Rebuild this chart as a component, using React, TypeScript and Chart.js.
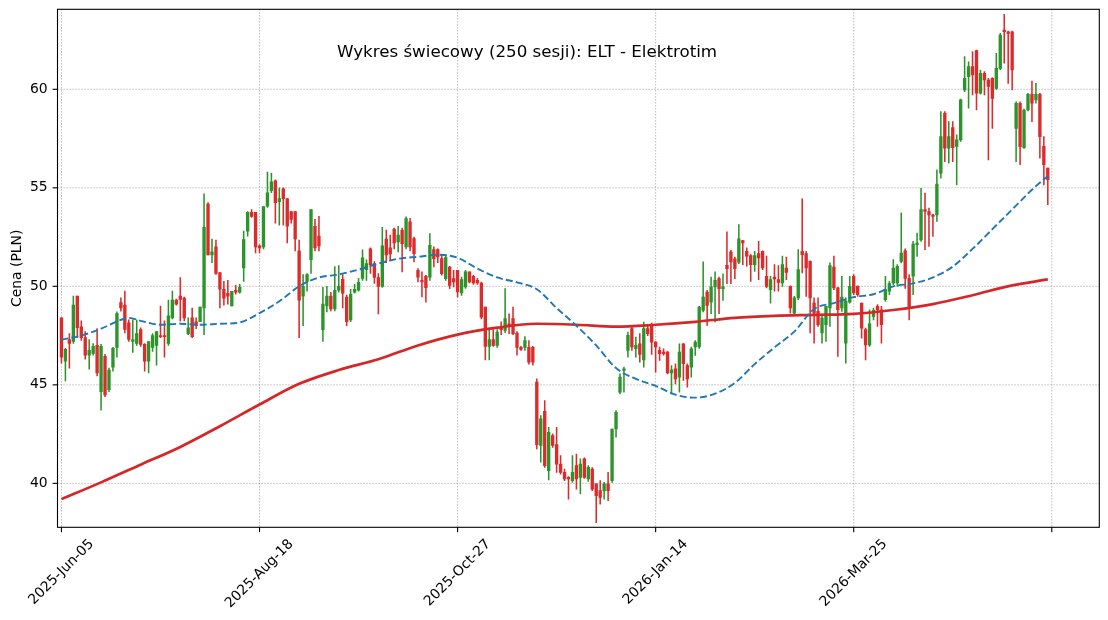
import { useEffect, useRef } from "react";
import { Chart, registerables } from "chart.js";

Chart.register(...registerables);

// OHLC for the 250 sessions (10 per row)
const OPEN = [
  48.4, 46.2, 47.3, 47.2, 49.5, 47.95, 47.4, 46.5, 46.6, 47.0,
  44.65, 46.45, 44.75, 45.9, 46.9, 49.17, 49.05, 48.15, 47.2, 47.1,
  47.8, 47.05, 46.2, 46.9, 47.0, 47.5, 47.5, 47.1, 48.4, 49.3,
  49.5, 49.4, 47.6, 48.4, 48.2, 48.2, 48.91, 54.18, 51.6, 52.0,
  50.7, 49.85, 49.65, 49.0, 49.8, 49.7, 50.93, 52.8, 53.75, 53.75,
  52.05, 52.0, 54.07, 54.85, 55.35, 54.3, 54.95, 54.45, 53.8, 53.8,
  51.8, 49.5, 50.25, 51.35, 53.05, 52.55, 47.8, 49.0, 49.5, 48.85,
  49.8, 50.35, 49.45, 48.3, 49.7, 49.8, 50.4, 50.85, 51.9, 51.15,
  50.45, 50.0, 52.4, 51.95, 52.9, 52.25, 52.85, 52.0, 53.27, 52.42,
  50.81, 50.3, 50.51, 50.47, 51.86, 51.86, 51.41, 50.39, 50.98, 50.39,
  50.81, 49.66, 49.97, 50.73, 50.51, 50.3, 50.17, 48.95, 46.95, 47.3,
  47.0, 47.97, 47.76, 48.1, 48.36, 47.63, 46.9, 46.9, 46.9, 46.9,
  45.14, 41.92, 43.66, 40.64, 42.42, 41.97, 40.98, 40.56, 40.3, 40.14,
  40.9, 40.3, 41.24, 40.22, 40.73, 39.97, 39.63, 39.63, 39.97, 40.14,
  42.76, 44.63, 45.73, 46.75, 47.85, 46.83, 47.08, 46.27, 47.85, 48.02,
  47.17, 46.75, 46.66, 46.66, 45.6, 45.81, 45.39, 47.08, 45.98, 45.9,
  46.92, 46.92, 48.78, 49.71, 49.2, 49.97, 50.39, 49.88, 51.07, 51.75,
  51.4, 51.22, 52.32, 51.78, 51.56, 51.1, 51.66, 51.78, 50.51, 49.83,
  50.47, 50.34, 50.17, 50.93, 50.0, 48.64, 49.41, 51.78, 51.66, 51.27,
  49.15, 48.73, 47.63, 48.05, 48.9, 50.98, 49.92, 48.9, 47.12, 49.19,
  50.51, 50.0, 49.15, 47.8, 47.03, 48.47, 48.98, 48.81, 49.32, 49.75,
  50.17, 50.17, 51.27, 51.8, 50.4, 50.51, 52.11, 52.36, 53.89, 53.8,
  53.63, 53.63, 55.74, 58.78, 57.01, 58.06, 57.1, 57.43, 59.97, 60.64,
  61.15, 61.96, 59.8, 60.81, 60.47, 60.56, 60.05, 61.06, 63.0, 62.92,
  62.92, 58.02, 59.29, 57.04, 58.95, 59.75, 59.46, 59.75, 57.1, 56.0,
];

const HIGH = [
  48.4, 46.85, 47.6, 49.5, 49.5, 48.25, 47.7, 47.3, 47.1, 47.85,
  47.05, 46.55, 45.85, 46.9, 48.7, 49.42, 49.76, 48.3, 48.3, 48.3,
  47.9, 47.1, 47.2, 47.6, 47.7, 49.0, 48.25, 49.3, 49.76, 49.35,
  50.44, 49.45, 48.4, 48.9, 48.4, 48.95, 54.69, 54.25, 52.4, 52.35,
  50.7, 50.25, 50.3, 49.75, 50.05, 50.1, 52.8, 53.8, 53.9, 53.75,
  52.1, 54.05, 55.8, 55.75, 55.4, 55.0, 55.0, 54.45, 53.8, 53.8,
  52.35, 50.6, 50.65, 53.9, 53.4, 53.55, 49.95, 50.0, 49.7, 51.0,
  51.05, 50.6, 49.55, 49.85, 50.1, 50.4, 51.85, 51.35, 51.95, 51.25,
  50.65, 53.0, 52.85, 52.6, 52.95, 53.05, 52.95, 53.53, 53.45, 52.5,
  50.9, 50.73, 50.56, 52.68, 52.0, 51.9, 51.58, 51.58, 51.02, 50.81,
  50.81, 50.47, 50.81, 50.73, 50.56, 50.4, 50.22, 48.95, 47.8, 47.8,
  47.8, 48.2, 49.88, 48.6, 48.95, 47.7, 46.95, 47.45, 47.25, 46.95,
  45.31, 43.44, 44.2, 42.85, 42.51, 42.85, 41.41, 40.73, 40.35, 41.41,
  41.49, 41.24, 41.3, 40.9, 40.8, 39.97, 40.14, 40.05, 40.56, 42.76,
  43.7, 45.56, 45.9, 47.68, 47.93, 47.42, 47.6, 48.19, 48.0, 48.14,
  47.2, 46.92, 46.83, 46.7, 45.98, 46.07, 47.08, 47.1, 46.07, 46.92,
  47.25, 48.98, 51.24, 49.8, 50.47, 50.73, 50.47, 50.64, 52.76, 51.83,
  51.49, 53.14, 52.34, 51.95, 51.61, 51.78, 52.29, 51.8, 51.53, 50.51,
  51.1, 51.05, 51.53, 51.49, 50.03, 49.49, 51.86, 54.44, 51.78, 51.3,
  49.41, 49.41, 48.56, 48.98, 51.19, 51.53, 49.95, 50.51, 49.41, 50.51,
  50.59, 50.03, 49.15, 47.88, 48.81, 48.9, 49.07, 48.98, 50.51, 50.25,
  51.36, 51.1, 53.73, 51.9, 50.6, 52.28, 52.7, 54.98, 54.73, 53.97,
  53.65, 55.91, 58.87, 58.87, 58.36, 58.36, 57.69, 59.5, 61.66, 61.4,
  61.91, 61.99, 60.98, 60.9, 60.56, 60.6, 61.82, 62.84, 63.8, 62.95,
  62.96, 59.37, 59.37, 59.0, 59.8, 60.42, 60.3, 59.8, 57.6, 56.0,
];

const LOW = [
  46.1, 45.2, 45.85, 47.1, 47.4, 47.25, 46.3, 45.8, 46.5, 45.45,
  43.72, 44.4, 44.65, 45.7, 46.4, 48.74, 47.64, 47.2, 46.65, 47.0,
  46.95, 45.7, 45.6, 46.7, 46.0, 47.4, 46.4, 47.0, 48.35, 49.05,
  48.23, 48.25, 47.55, 47.4, 47.85, 48.2, 47.55, 51.6, 51.2, 50.6,
  48.9, 49.05, 49.1, 49.0, 49.6, 49.65, 50.25, 52.55, 53.5, 51.7,
  51.7, 51.9, 54.0, 54.75, 53.2, 53.1, 53.1, 52.2, 53.2, 51.8,
  47.4, 48.0, 49.75, 50.65, 51.8, 51.8, 47.2, 48.7, 48.75, 48.75,
  49.7, 48.9, 48.0, 48.2, 49.65, 49.75, 50.3, 50.3, 50.65, 50.15,
  48.6, 49.95, 51.2, 51.3, 51.9, 51.75, 50.73, 51.9, 51.8, 51.24,
  50.22, 49.46, 49.2, 50.3, 50.98, 51.2, 50.56, 50.3, 49.88, 49.97,
  49.46, 49.54, 49.9, 50.17, 50.1, 50.1, 48.35, 46.27, 46.27, 46.95,
  46.9, 47.55, 47.65, 47.6, 47.55, 46.5, 46.75, 46.75, 46.05, 46.0,
  41.75, 41.07, 40.81, 40.17, 41.83, 40.56, 40.47, 40.14, 39.2, 40.05,
  39.71, 39.46, 40.25, 40.1, 39.63, 38.0, 38.95, 39.2, 39.12, 40.05,
  42.34, 44.54, 44.63, 46.4, 46.75, 46.4, 46.15, 45.9, 47.5, 46.54,
  45.64, 46.24, 46.5, 45.55, 44.54, 45.05, 44.63, 45.22, 44.88, 45.39,
  46.49, 46.85, 48.7, 48.02, 48.61, 48.19, 48.61, 49.29, 50.14, 50.14,
  50.39, 51.15, 51.1, 51.02, 50.25, 50.76, 50.34, 50.85, 49.92, 49.15,
  49.75, 49.75, 50.0, 50.34, 48.64, 48.56, 49.32, 50.68, 49.49, 47.63,
  47.12, 47.97, 47.12, 47.2, 47.97, 49.83, 46.44, 48.73, 46.1, 49.15,
  49.58, 49.49, 47.37, 46.27, 46.95, 48.3, 47.97, 47.12, 49.24, 49.58,
  50.08, 50.0, 51.19, 49.9, 48.3, 49.58, 51.52, 52.28, 51.86, 52.03,
  52.53, 53.29, 55.49, 56.33, 56.25, 56.33, 55.15, 57.35, 59.88, 59.04,
  59.71, 58.95, 59.75, 59.71, 56.42, 58.02, 60.0, 61.0, 61.32, 60.3,
  59.97, 56.33, 56.17, 57.0, 58.9, 58.36, 59.29, 56.5, 55.15, 54.14,
];

const CLOSE = [
  46.4, 46.8, 47.1, 49.05, 47.9, 47.4, 46.5, 46.75, 46.95, 45.6,
  46.96, 44.49, 45.75, 46.85, 48.62, 48.91, 47.81, 47.3, 47.3, 47.6,
  47.05, 46.2, 47.2, 47.5, 47.7, 47.45, 47.45, 48.5, 49.3, 49.1,
  49.34, 48.4, 47.9, 47.45, 48.0, 48.95, 52.99, 51.6, 51.75, 50.65,
  49.85, 49.4, 49.5, 49.75, 49.7, 49.95, 52.37, 53.75, 53.55, 52.0,
  51.95, 54.05, 54.75, 55.3, 54.25, 54.45, 54.45, 53.05, 53.4, 52.4,
  49.3, 50.0, 50.6, 53.9, 51.95, 52.05, 49.1, 49.5, 48.85, 49.8,
  50.0, 49.65, 48.2, 49.6, 49.85, 50.2, 51.45, 51.15, 51.1, 50.45,
  50.0, 52.05, 51.6, 51.65, 52.2, 52.6, 52.17, 53.44, 52.0, 51.66,
  50.47, 50.22, 49.93, 52.08, 51.41, 51.49, 50.64, 51.46, 50.05, 50.22,
  49.71, 50.34, 50.73, 50.22, 50.17, 50.17, 48.44, 46.95, 47.3, 47.0,
  47.68, 47.8, 48.36, 47.95, 47.6, 46.9, 46.8, 47.25, 46.15, 46.15,
  41.97, 43.27, 40.9, 42.59, 41.92, 40.98, 40.56, 40.22, 40.22, 40.56,
  40.22, 40.98, 40.3, 40.81, 39.71, 39.37, 39.29, 39.97, 39.63, 42.76,
  43.61, 45.39, 45.81, 47.51, 46.92, 47.0, 46.54, 47.85, 47.6, 47.17,
  46.92, 46.58, 46.58, 45.6, 45.76, 45.3, 46.66, 46.07, 45.3, 46.83,
  47.17, 48.95, 49.46, 49.03, 49.97, 50.3, 49.88, 49.97, 50.9, 51.24,
  50.9, 52.41, 52.2, 51.53, 51.1, 51.56, 51.44, 50.93, 50.0, 50.34,
  50.37, 50.2, 51.1, 50.71, 48.9, 49.41, 50.85, 51.61, 50.93, 49.41,
  48.64, 48.05, 48.39, 48.98, 51.05, 49.92, 48.81, 49.46, 49.24, 50.0,
  49.66, 49.58, 47.88, 47.03, 48.1, 48.78, 48.81, 48.05, 49.83, 50.14,
  50.93, 51.02, 51.69, 50.4, 48.9, 52.15, 52.2, 53.89, 53.8, 53.63,
  53.55, 55.19, 57.6, 57.01, 57.6, 57.04, 57.43, 59.46, 60.56, 61.15,
  60.73, 59.8, 60.81, 60.47, 60.14, 59.54, 61.06, 62.75, 62.92, 62.84,
  60.98, 59.29, 57.09, 58.95, 59.75, 59.29, 59.75, 57.6, 56.17, 55.41,
];

// moving averages, sampled along the session index
const SMA50_IDX = [
  0, 5, 10, 15, 17, 20, 25, 30, 35, 40, 45, 50, 55, 60, 65, 70, 75, 80, 85, 90,
  95, 100, 105, 110, 115, 120, 125, 130, 135, 140, 145, 150, 155, 160, 165, 170,
  175, 180, 185, 190, 195, 200, 205, 210, 215, 220, 225, 230, 235, 240, 245, 249,
];
const SMA50 = [
  47.3, 47.5, 47.85, 48.3, 48.4, 48.25, 48.05, 48.1, 48.05, 48.1, 48.17, 48.64,
  49.24, 50.0, 50.45, 50.6, 50.85, 51.15, 51.4, 51.5, 51.6, 51.45, 50.9, 50.45,
  50.2, 49.85, 48.9, 48.0, 47.0, 45.85, 45.3, 44.95, 44.5, 44.35, 44.55, 45.1,
  46.05, 46.9, 47.7, 48.85, 49.15, 49.45, 49.6, 50.0, 50.15, 50.45, 51.0, 51.9,
  52.9, 53.9, 54.9, 55.6,
];

const SMA200_IDX = [
  0, 10, 20, 30, 40, 50, 60, 70, 80, 90, 100, 110, 120, 130, 140, 150, 160, 170,
  180, 190, 200, 210, 220, 230, 240, 249,
];
const SMA200 = [
  39.2, 40.05, 40.95, 41.85, 42.9, 44.0, 45.05, 45.75, 46.3, 47.0, 47.55, 47.9,
  48.1, 48.05, 47.95, 48.05, 48.2, 48.4, 48.5, 48.55, 48.6, 48.8, 49.1, 49.55,
  50.05, 50.35,
];

const X_TICKS = [0, 50, 100, 150, 200, 250];
const X_LABELS = ["2025-Jun-05", "2025-Aug-18", "2025-Oct-27", "2026-Jan-14", "2026-Mar-25", ""];
const Y_TICKS = [40, 45, 50, 55, 60];

const TITLE = "Wykres świecowy (250 sesji): ELT - Elektrotim";
const Y_TITLE = "Cena (PLN)";

const GREEN = "#2b952b";
const RED = "#dc2b2b";
const BLUE = "#1f77b4";
const MA_RED = "#d62728";
const FONT = '"DejaVu Sans", Verdana, sans-serif';

// matplotlib-like frame, grid, ticks and texts
const mplAxes = {
  id: "mplAxes",
  beforeDatasetsDraw(chart: any) {
    const { ctx, chartArea: a, scales } = chart;
    ctx.save();
    ctx.strokeStyle = "rgba(130,130,130,0.8)";
    ctx.lineWidth = 0.9;
    ctx.setLineDash([1.1, 1.9]);
    X_TICKS.forEach((t) => {
      const px = scales.x.getPixelForValue(t);
      ctx.beginPath();
      ctx.moveTo(px, a.top);
      ctx.lineTo(px, a.bottom);
      ctx.stroke();
    });
    Y_TICKS.forEach((t) => {
      const py = scales.y.getPixelForValue(t);
      ctx.beginPath();
      ctx.moveTo(a.left, py);
      ctx.lineTo(a.right, py);
      ctx.stroke();
    });
    ctx.restore();
  },
  afterDraw(chart: any) {
    const { ctx, chartArea: a, scales } = chart;
    const tickLen = 4.9;
    const pad = 4.9;
    ctx.save();
    ctx.strokeStyle = "#000";
    ctx.lineWidth = 1.1;
    ctx.strokeRect(a.left, a.top, a.right - a.left, a.bottom - a.top);

    ctx.fillStyle = "#000";
    ctx.font = `13.9px ${FONT}`;
    // y ticks
    ctx.textAlign = "right";
    ctx.textBaseline = "middle";
    Y_TICKS.forEach((t) => {
      const py = scales.y.getPixelForValue(t);
      ctx.beginPath();
      ctx.moveTo(a.left, py);
      ctx.lineTo(a.left - tickLen, py);
      ctx.stroke();
      ctx.fillText(String(t), a.left - tickLen - pad, py);
    });
    // x ticks, labels rotated 45° and centred on the tick
    X_TICKS.forEach((t, i) => {
      const px = scales.x.getPixelForValue(t);
      ctx.beginPath();
      ctx.moveTo(px, a.bottom);
      ctx.lineTo(px, a.bottom + tickLen);
      ctx.stroke();
      const label = X_LABELS[i];
      if (!label) return;
      const w = ctx.measureText(label).width;
      const h = 14;
      const half = ((w + h) * Math.SQRT1_2) / 2;
      ctx.save();
      ctx.translate(px, a.bottom + tickLen + pad + half);
      ctx.rotate(-Math.PI / 4);
      ctx.textAlign = "center";
      ctx.textBaseline = "middle";
      ctx.fillText(label, 0, 0);
      ctx.restore();
    });
    // y axis title
    ctx.save();
    ctx.translate(17, (a.top + a.bottom) / 2);
    ctx.rotate(-Math.PI / 2);
    ctx.textAlign = "center";
    ctx.textBaseline = "middle";
    ctx.fillText(Y_TITLE, 0, 0);
    ctx.restore();
    // title inside the plot
    ctx.font = `16.7px ${FONT}`;
    ctx.textAlign = "center";
    ctx.textBaseline = "alphabetic";
    ctx.fillText(TITLE, 527, 56.7);
    ctx.restore();
  },
};

export default function App() {
  const canvasRef = useRef<HTMLCanvasElement>(null);

  useEffect(() => {
    const canvas = canvasRef.current;
    if (!canvas) return;
    const idx = CLOSE.map((_, i) => i);
    const colors = idx.map((i) => (CLOSE[i] >= OPEN[i] ? GREEN : RED));

    const chart = new Chart(canvas, {
      type: "bar",
      data: {
        datasets: [
          {
            type: "line",
            label: "SMA 50",
            data: SMA50_IDX.map((x, i) => ({ x, y: SMA50[i] })),
            borderColor: BLUE,
            borderWidth: 1.9,
            borderDash: [7, 3.2],
            pointRadius: 0,
            cubicInterpolationMode: "monotone",
            order: 0,
          },
          {
            type: "line",
            label: "SMA 200",
            data: SMA200_IDX.map((x, i) => ({ x, y: SMA200[i] })),
            borderColor: MA_RED,
            borderWidth: 2.7,
            pointRadius: 0,
            cubicInterpolationMode: "monotone",
            order: 1,
          },
          {
            type: "bar",
            label: "body",
            data: idx.map((i) => ({ x: i, y: [OPEN[i], CLOSE[i]] })),
            backgroundColor: colors,
            borderWidth: 0,
            barThickness: 2.7,
            minBarLength: 1,
            grouped: false,
            order: 2,
          },
          {
            type: "bar",
            label: "wick",
            data: idx.map((i) => ({ x: i, y: [LOW[i], HIGH[i]] })),
            backgroundColor: colors,
            borderWidth: 0,
            barThickness: 0.9,
            grouped: false,
            order: 3,
          },
        ] as any,
      },
      options: {
        responsive: false,
        animation: false,
        events: [],
        layout: { padding: { left: 57.5, right: 8.7, top: 9.3, bottom: 92.7 } },
        plugins: {
          legend: { display: false },
          tooltip: { enabled: false },
          title: { display: false },
        },
        scales: {
          x: { type: "linear", min: -1, max: 262, offset: false, display: false },
          y: { type: "linear", min: 37.77, max: 64.06, display: false },
        },
      },
      plugins: [mplAxes],
    });

    return () => chart.destroy();
  }, []);

  return (
    <div style={{ position: "fixed", left: 0, top: 0, width: 1108, height: 620, background: "#fff" }}>
      <canvas ref={canvasRef} width={1108} height={620}></canvas>
    </div>
  );
}
